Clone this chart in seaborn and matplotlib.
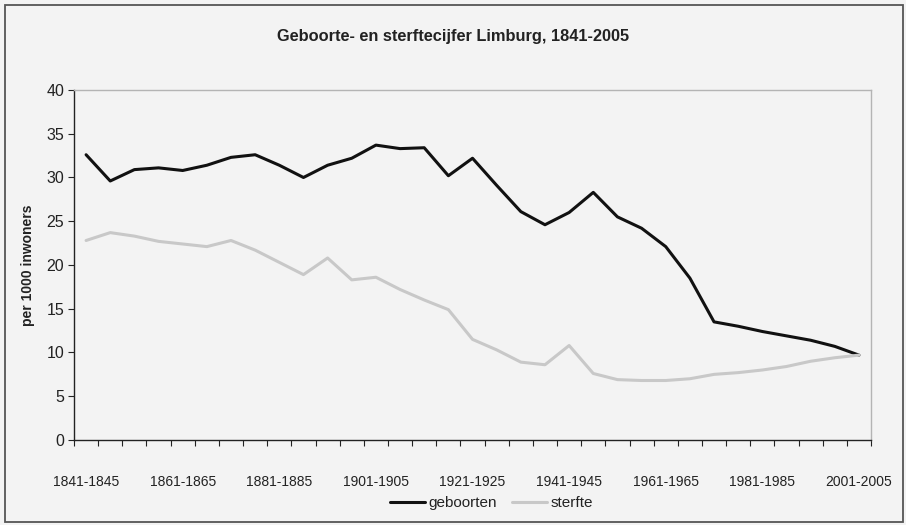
import seaborn as sns
import matplotlib.pyplot as plt
import pandas as pd
from matplotlib.patches import Rectangle

# Perioden van 5 jaar, 1841-2005
perioden = [f"{j}-{j + 4}" for j in range(1841, 2002, 5)]

geboorten = [32.6, 29.6, 30.9, 31.1, 30.8, 31.4, 32.3, 32.6, 31.4, 30.0,
             31.4, 32.2, 33.7, 33.3, 33.4, 30.2, 32.2, 29.1, 26.1, 24.6,
             26.0, 28.3, 25.5, 24.2, 22.1, 18.5, 13.5, 13.0, 12.4, 11.9,
             11.4, 10.7, 9.7]

sterfte = [22.8, 23.7, 23.3, 22.7, 22.4, 22.1, 22.8, 21.7, 20.3, 18.9,
           20.8, 18.3, 18.6, 17.2, 16.0, 14.9, 11.5, 10.3, 8.9, 8.6,
           10.8, 7.6, 6.9, 6.8, 6.8, 7.0, 7.5, 7.7, 8.0, 8.4,
           9.0, 9.4, 9.7]

df = pd.DataFrame({
    'idx': list(range(len(perioden))) * 2,
    'waarde': geboorten + sterfte,
    'reeks': ['geboorten'] * len(perioden) + ['sterfte'] * len(perioden),
})

sns.set_style('white')
plt.rcParams['font.family'] = ['Liberation Sans', 'DejaVu Sans']

bg = '#f3f3f3'
fig = plt.figure(figsize=(9.06, 5.25), dpi=100, facecolor=bg)
ax = fig.add_axes([0.0817, 0.1619, 0.8797, 0.6667])
ax.set_facecolor(bg)

sns.lineplot(data=df, x='idx', y='waarde', hue='reeks',
             palette={'geboorten': '#111111', 'sterfte': '#c8c8c8'},
             linewidth=2.2, ax=ax)

ax.set_xlim(-0.5, len(perioden) - 0.5)
ax.set_ylim(0, 40)
ax.set_yticks(range(0, 41, 5))
ax.tick_params(axis='y', labelsize=11.5, length=4, width=0.8, direction='out',
               left=True, colors='#222222', pad=3)

# labels in het midden van een periode, streepjes tussen perioden
ax.set_xticks(range(0, len(perioden), 4))
ax.set_xticklabels(perioden[::4])
ax.set_xticks([i - 0.5 for i in range(len(perioden) + 1)], minor=True)
ax.tick_params(axis='x', which='major', length=0, labelsize=10, pad=25,
               colors='#222222')
ax.tick_params(axis='x', which='minor', length=4, width=0.8, direction='out',
               bottom=True, color='#222222')

for s in ['left', 'bottom']:
    ax.spines[s].set_color('#222222')
    ax.spines[s].set_linewidth(1.0)
for s in ['top', 'right']:
    ax.spines[s].set_color('#b4b4b4')
    ax.spines[s].set_linewidth(1.0)

ax.set_xlabel('')
ax.set_ylabel('per 1000 inwoners', fontsize=10, weight='bold', color='#222222',
              labelpad=8)

fig.text(0.5, 0.93, 'Geboorte- en sterftecijfer Limburg, 1841-2005',
         ha='center', va='center', fontsize=11.8, weight='bold', color='#222222')

leg = ax.legend(loc='center', bbox_to_anchor=(0.524, -0.181), ncol=2,
                frameon=False, fontsize=11, handlelength=2.3, handletextpad=0.2,
                columnspacing=1.0, borderpad=0)
for t in leg.get_texts():
    t.set_color('#222222')

# kader rond de hele grafiek
fig.patches.append(Rectangle((5 / 906, 3 / 525), 898 / 906, 517 / 525,
                             transform=fig.transFigure, fill=False,
                             edgecolor='#555555', linewidth=1.3))

plt.savefig('out.png', dpi=100, facecolor=bg)
